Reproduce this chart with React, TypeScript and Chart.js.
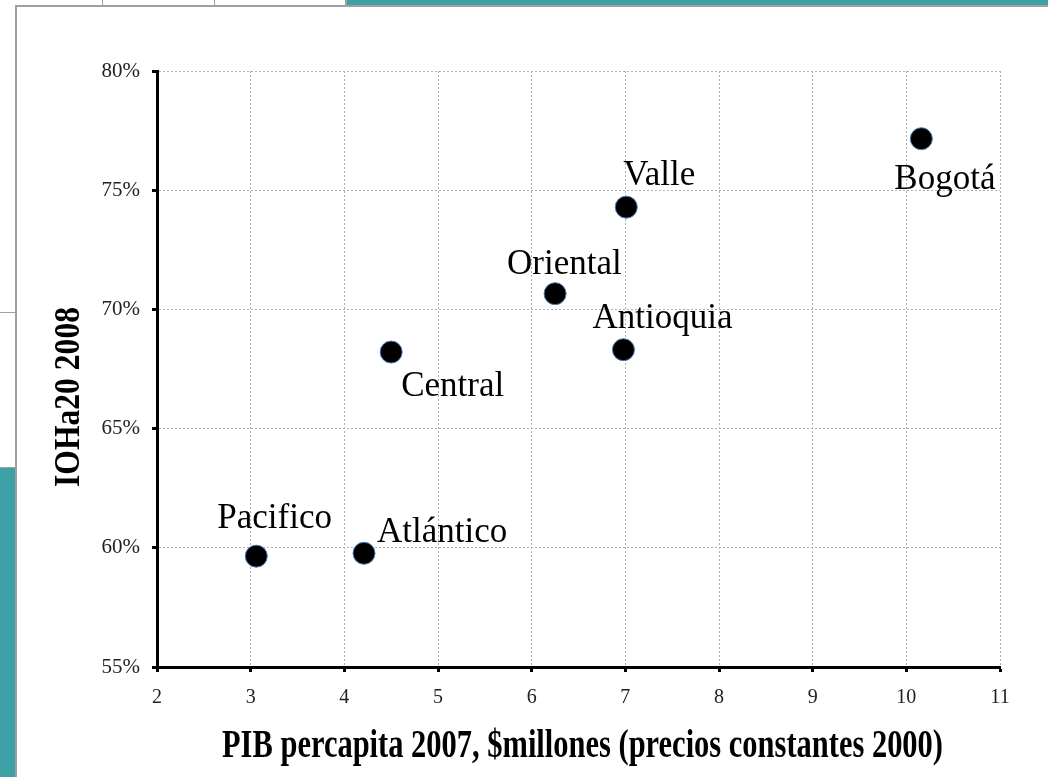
import React, { useEffect, useRef } from "react";
import { Chart, registerables } from "chart.js";

Chart.register(...registerables);

// ---- data ----
const regions = ["Pacifico", "Atlántico", "Central", "Oriental", "Antioquia", "Valle", "Bogotá"];
const pibPerCapita = [3.06, 4.21, 4.5, 6.25, 6.98, 7.01, 10.16];
const ioha20 = [59.65, 59.77, 68.21, 70.66, 68.31, 74.29, 77.16];
const xTicks = [2, 3, 4, 5, 6, 7, 8, 9, 10, 11];
const yTicks = [55, 60, 65, 70, 75, 80];
const xTitle = "PIB percapita 2007, $millones (precios constantes 2000)";
const yTitle = "IOHa20 2008";

// label placement relative to each point (text left edge, baseline)
const labelOffsets: [number, number][] = [
  [-39, -28],
  [13, -11],
  [10, 44],
  [-48, -20],
  [-31, -22],
  [-3, -22],
  [-27, 50],
];

const SERIF = '"Liberation Serif", "Times New Roman", serif';

const annotatePlugin = {
  id: "annotate",
  afterDatasetsDraw(chart: any) {
    const ctx = chart.ctx as CanvasRenderingContext2D;
    const meta = chart.getDatasetMeta(0);
    const area = chart.chartArea;
    ctx.save();
    ctx.fillStyle = "#000";
    ctx.textAlign = "left";
    ctx.textBaseline = "alphabetic";
    ctx.font = `35px ${SERIF}`;
    meta.data.forEach((pt: any, i: number) => {
      const [dx, dy] = labelOffsets[i];
      ctx.fillText(regions[i], pt.x + dx, pt.y + dy);
    });

    // x axis title (condensed bold)
    ctx.font = `bold 39px ${SERIF}`;
    const wx = ctx.measureText(xTitle).width;
    ctx.save();
    ctx.translate(area.left + area.width / 2 + 4, area.bottom + 90);
    ctx.scale(721 / wx, 1);
    ctx.textAlign = "center";
    ctx.fillText(xTitle, 0, 0);
    ctx.restore();

    // y axis title (rotated, condensed bold)
    ctx.font = `bold 36px ${SERIF}`;
    const wy = ctx.measureText(yTitle).width;
    ctx.save();
    ctx.translate(area.left - 78, area.top + area.height / 2 + 28);
    ctx.rotate(-Math.PI / 2);
    ctx.scale(180 / wy, 1);
    ctx.textAlign = "center";
    ctx.fillText(yTitle, 0, 0);
    ctx.restore();

    ctx.restore();
  },
};

export default function App() {
  const canvasRef = useRef<HTMLCanvasElement | null>(null);

  useEffect(() => {
    if (!canvasRef.current) return;
    const chart = new Chart(canvasRef.current, {
      type: "scatter",
      data: {
        datasets: [
          {
            label: "IOHa20 2008",
            data: pibPerCapita.map((x, i) => ({ x, y: ioha20[i] })),
            pointRadius: 11,
            pointHoverRadius: 11,
            backgroundColor: "#000000",
            borderColor: "#4a7ebb",
            borderWidth: 1,
          },
        ],
      },
      options: {
        responsive: false,
        animation: false,
        events: [],
        layout: { padding: { left: 0, top: 71, right: 48, bottom: 0 } },
        plugins: {
          legend: { display: false },
          tooltip: { enabled: false },
          title: { display: false },
        },
        scales: {
          x: {
            type: "linear",
            min: xTicks[0],
            max: xTicks[xTicks.length - 1],
            afterBuildTicks: (s: any) => {
              s.ticks = xTicks.map((v) => ({ value: v }));
            },
            afterFit: (s: any) => {
              s.height = 110;
            },
            ticks: {
              autoSkip: false,
              maxRotation: 0,
              padding: 14,
              color: "#222",
              font: { family: SERIF, size: 20 },
              callback: (v: any) => String(v),
            },
            grid: {
              color: "#b0b0b0",
              lineWidth: 1,
              tickColor: "#000",
              tickWidth: 3,
              tickLength: 5,
            },
            border: { display: true, color: "#000", width: 3, dash: [2, 2] },
          },
          y: {
            type: "linear",
            min: yTicks[0],
            max: yTicks[yTicks.length - 1],
            afterBuildTicks: (s: any) => {
              s.ticks = yTicks.map((v) => ({ value: v }));
            },
            afterFit: (s: any) => {
              s.width = 157;
            },
            ticks: {
              autoSkip: false,
              padding: 12,
              color: "#222",
              font: { family: SERIF, size: 21 },
              callback: (v: any) => `${v}%`,
            },
            grid: {
              color: "#b0b0b0",
              lineWidth: 1,
              tickColor: "#000",
              tickWidth: 3,
              tickLength: 5,
            },
            border: { display: true, color: "#000", width: 3, dash: [2, 2] },
          },
        },
      },
      plugins: [annotatePlugin],
    });
    return () => chart.destroy();
  }, []);

  const teal = "#3ea1a6";
  const frame = "#a0a0a0";
  const abs = (s: React.CSSProperties): React.CSSProperties => ({ position: "absolute", ...s });

  return (
    <div style={{ position: "fixed", left: 0, top: 0, width: 1048, height: 777, background: "#fff", overflow: "hidden" }}>
      <div style={abs({ left: 347, top: 0, width: 701, height: 5, background: teal })} />
      <div style={abs({ left: 102, top: 0, width: 1, height: 5, background: frame })} />
      <div style={abs({ left: 214, top: 0, width: 1, height: 5, background: frame })} />
      <div style={abs({ left: 345, top: 0, width: 2, height: 5, background: frame })} />
      <div style={abs({ left: 15, top: 5, width: 1033, height: 2, background: frame })} />
      <div style={abs({ left: 15, top: 5, width: 2, height: 772, background: frame })} />
      <div style={abs({ left: 0, top: 312, width: 15, height: 1, background: frame })} />
      <div style={abs({ left: 0, top: 467, width: 15, height: 1, background: frame })} />
      <div style={abs({ left: 0, top: 468, width: 15, height: 309, background: teal })} />
      <canvas
        ref={canvasRef}
        width={1048}
        height={777}
        style={{ position: "absolute", left: 0, top: 0, display: "block" }}
      />
    </div>
  );
}
